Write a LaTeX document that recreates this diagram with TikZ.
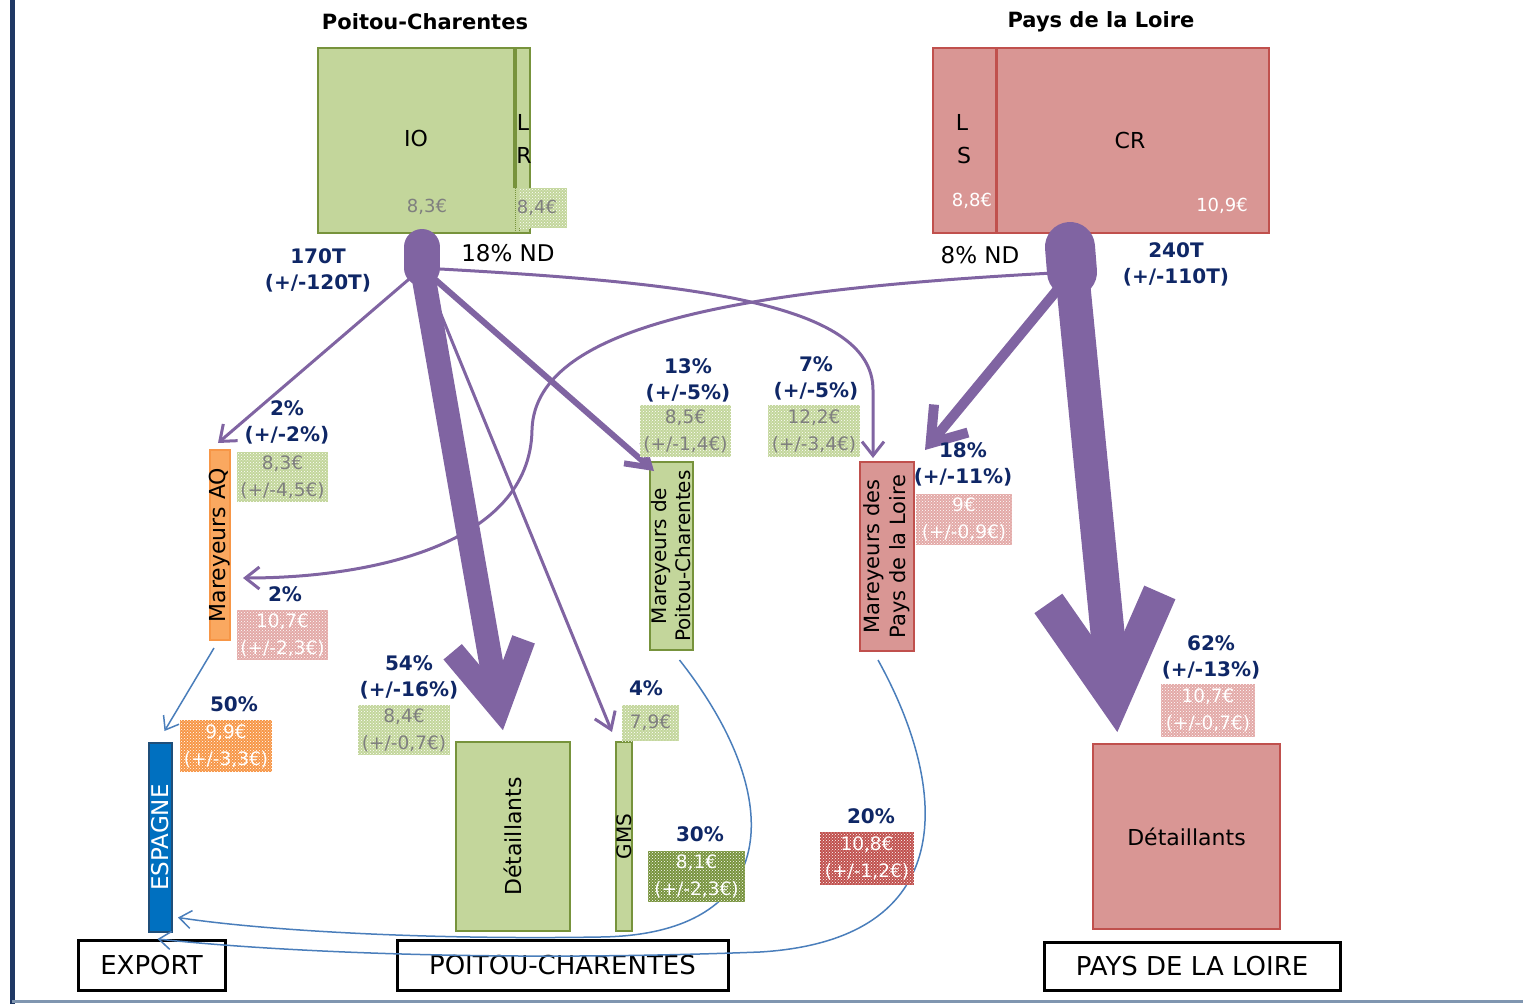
\documentclass[tikz,border=0pt]{standalone}
\usepackage{fontspec}
\setmainfont{DejaVu Sans}
\usetikzlibrary{arrows.meta,patterns,calc}
\definecolor{grnL}{HTML}{C3D69B}
\definecolor{grnD}{HTML}{77933C}
\definecolor{redL}{HTML}{D99694}
\definecolor{redD}{HTML}{C0504D}
\definecolor{pinkP}{HTML}{E3A9A7}
\definecolor{orgP}{HTML}{F79646}
\definecolor{orgL}{HTML}{FAA860}
\definecolor{navy}{HTML}{0F2766}
\definecolor{purp}{HTML}{8064A2}
\definecolor{blueL}{HTML}{4A7EBB}
\definecolor{espB}{HTML}{0070C0}
\definecolor{espD}{HTML}{1F4E79}
\definecolor{greyT}{HTML}{7F7F7F}
\definecolor{frameB}{HTML}{1F3864}
\definecolor{frameG}{HTML}{8096B0}
\begin{document}
\begin{tikzpicture}[x=1pt,y=-1pt,
  every node/.style={inner sep=0pt,outer sep=0pt},
  box/.style={draw,line width=2.5pt},
  gbox/.style={box,draw=grnD,fill=grnL},
  rbox/.style={box,draw=redD,fill=redL},
  regbox/.style={draw=black,line width=3pt,fill=white,font=\fontsize{26}{30}\selectfont},
  ttl/.style={font=\bfseries\fontsize{21}{25}\selectfont},
  pct/.style={text=navy,font=\bfseries\fontsize{20}{26}\selectfont,align=center},
  prbox/.style 2 args={preaction={fill=#1},pattern=crosshatch dots,pattern color=white,
     text=#2,font=\fontsize{18.5}{27}\selectfont,align=center},
  nd/.style={font=\fontsize{23}{27}\selectfont},
  big/.style={font=\fontsize{22}{26}\selectfont},
  parr/.style={draw=purp,line cap=round,line join=round},
  barr/.style={draw=blueL,line width=1.5pt,-{Straight Barb[length=12pt,width=18pt]}},
]
\useasboundingbox (0,0) rectangle (1523,1004);
% frame
\draw[frameB,line width=5pt] (12,0) -- (12,1004);
\draw[frameG,line width=3pt] (12,1001) -- (1523,1001);

% titles
\node[ttl] (tpc) at (425,22) {Poitou-Charentes};
\node[ttl] (tpl) at (1101,22) {Pays de la Loire};

% top boxes
\node[gbox,minimum width=212pt,minimum height=185pt] (pcbox) at (424,140.5) {};
\draw[grnD,line width=4pt] (515,48) -- (515,188);
\draw[grnD,densely dotted,line width=1pt] (515,188) -- (515,233);
\draw[grnD,densely dotted,line width=1pt] (519,188) -- (519,233);
\node[prbox={grnL}{greyT},minimum width=48pt,minimum height=40pt] (p84) at (543,208) {};
\node[big] at (416,138) {IO};
\node[big] at (523,122) {L};
\node[big] at (524,155) {R};
\node[text=greyT,font=\fontsize{18}{20}\selectfont] at (427,207) {8,3€};
\node[text=greyT,font=\fontsize{18}{20}\selectfont] at (537,208) {8,4€};

\node[rbox,minimum width=336pt,minimum height=185pt] (plbox) at (1101,140.5) {};
\draw[redD,line width=3pt] (996,48) -- (996,233);
\node[big] at (962,122) {L};
\node[big] at (964,155) {S};
\node[big] at (1130,140) {CR};
\node[text=white,font=\fontsize{18}{20}\selectfont] at (972,201) {8,8€};
\node[text=white,font=\fontsize{18}{20}\selectfont] at (1222,206) {10,9€};

% intermediate and final boxes
\node[box,draw=orgP,fill=orgL,minimum width=20pt,minimum height=190pt] (maq) at (220,545) {};
\node[rotate=90,font=\fontsize{22}{26}\selectfont] at (maq) {Mareyeurs AQ};
\node[gbox,minimum width=43pt,minimum height=188pt] (mpc) at (671.5,556) {};
\node[rotate=90,align=center,font=\fontsize{20}{24}\selectfont] at (mpc) {Mareyeurs de\\Poitou-Charentes};
\node[rbox,minimum width=54pt,minimum height=189pt] (mpl) at (887,556.5) {};
\node[rotate=90,align=center,font=\fontsize{21}{26}\selectfont] at (mpl) {Mareyeurs des\\Pays de la Loire};
\node[box,draw=espD,fill=espB,minimum width=23pt,minimum height=189pt] (esp) at (160.5,837.5) {};
\node[rotate=90,text=white,font=\fontsize{23}{26}\selectfont] at (esp) {ESPAGNE};
\node[gbox,minimum width=114pt,minimum height=189pt] (detpc) at (513,836.5) {};
\node[rotate=90,font=\fontsize{22}{26}\selectfont] at (detpc) {Détaillants};
\node[gbox,minimum width=16pt,minimum height=189pt] (gms) at (624,836.5) {};
\node[rotate=90,font=\fontsize{20}{24}\selectfont] at (gms) {GMS};
\node[rbox,minimum width=187pt,minimum height=185pt] (detpl) at (1186.5,836.5) {};
\node[font=\fontsize{22}{26}\selectfont] at (detpl) {Détaillants};

% region boxes
\node[regbox,minimum width=147pt,minimum height=50pt] (export) at (151.5,965) {EXPORT};
\node[regbox,minimum width=331pt,minimum height=50pt] (pcreg) at (562.5,965) {POITOU-CHARENTES};
\node[regbox,minimum width=296pt,minimum height=48pt] (plreg) at (1192,966) {PAYS DE LA LOIRE};

% source coordinates
\coordinate (pcA) at (422,268);
\coordinate (pcB) at (422,247);
\coordinate (plA) at (1072,272);
\coordinate (plB) at (1070,247);

% purple flows from Poitou-Charentes
\draw[parr,line width=3pt,-{Straight Barb[length=14pt,width=22pt]}] (pcA) -- ($(maq.north)+(-2,-7)$);
\draw[parr,line width=3pt,-{Straight Barb[length=16pt,width=22pt]}] (pcA) -- ($(gms.north)+(-12,-10)$);
\draw[parr,line width=6pt,-{Straight Barb[length=22pt,width=28pt]}] (pcA) -- ($(mpc.north west)+(4,9)$);
\draw[parr,line width=3pt,-{Straight Barb[length=14pt,width=22pt]}] (pcA) .. controls (680,282) and (873,300) .. (873,390) -- ($(mpl.north)+(-14,-4)$);
\draw[parr,line width=24pt,-{Straight Barb[length=62pt,width=72pt]},shorten >=12pt] (pcA) -- ($(detpc.north)+(-8,0)$);

% purple flows from Pays de la Loire
\draw[parr,line width=3pt,-{Straight Barb[length=14pt,width=22pt]}] (plA) .. controls (760,288) and (535,320) .. (532,430) .. controls (530,545) and (370,578) .. ($(maq.east)+(13,33)$);
\draw[parr,line width=10pt,-{Straight Barb[length=32pt,width=44pt]}] (plA) -- ($(mpl.north east)+(11,-12)$);
\draw[parr,line width=34pt,-{Straight Barb[length=100pt,width=112pt]},shorten >=12pt] (plA) -- ($(detpl.north)+(-68,0)$);

% source blobs
\draw[purp,line width=36pt,line cap=round] (pcB) -- (pcA);
\draw[purp,line width=50pt,line cap=round] (plB) -- (plA);

% blue flows
\draw[barr] ($(maq.south)+(-6,8)$) -- ($(esp.north)+(4,-12)$);
\draw[barr] ($(mpc.south)+(8,10)$) .. controls (790,800) and (780,935) .. (600,937) .. controls (420,940) and (260,930) .. ($(esp.east)+(6,80)$);
\draw[barr] ($(mpl.south)+(-9,9)$) .. controls (950,790) and (960,940) .. (760,952) .. controls (500,962) and (280,952) .. ($(export.north)+(6,-1)$);

% tonnage and ND labels
\node[pct] (t170) at (318,270) {170T\\(+/-120T)};
\node[pct] (t240) at (1176,264) {240T\\(+/-110T)};
\node[nd] (nd18) at (508,253) {18\% ND};
\node[nd] (nd8) at (980,255) {8\% ND};

% percentage labels
\node[pct] at (287,422) {2\%\\(+/-2\%)};
\node[pct] at (285,594) {2\%};
\node[pct] at (688,380) {13\%\\(+/-5\%)};
\node[pct] at (816,378) {7\%\\(+/-5\%)};
\node[pct] at (963,464) {18\%\\(+/-11\%)};
\node[pct] at (409,677) {54\%\\(+/-16\%)};
\node[pct] at (646,688) {4\%};
\node[pct] at (234,704) {50\%};
\node[pct] at (700,834) {30\%};
\node[pct] at (871,816) {20\%};
\node[pct] at (1211,657) {62\%\\(+/-13\%)};

% price boxes
\node[prbox={grnL}{greyT},minimum width=91pt,minimum height=50pt] at (282.5,477) {8,3€\\(+/-4,5€)};
\node[prbox={pinkP}{white},minimum width=91pt,minimum height=50pt] at (282.5,635) {10,7€\\(+/-2,3€)};
\node[prbox={grnL}{greyT},minimum width=91pt,minimum height=52pt] at (685.5,431) {8,5€\\(+/-1,4€)};
\node[prbox={grnL}{greyT},minimum width=92pt,minimum height=52pt] at (814,431) {12,2€\\(+/-3,4€)};
\node[prbox={pinkP}{white},minimum width=96pt,minimum height=51pt] at (964,519.5) {9€\\(+/-0,9€)};
\node[prbox={grnL}{greyT},minimum width=92pt,minimum height=50pt] at (404,730) {8,4€\\(+/-0,7€)};
\node[prbox={grnL}{greyT},minimum width=57pt,minimum height=36pt] at (650.5,723) {7,9€};
\node[prbox={orgP}{white},minimum width=92pt,minimum height=52pt] at (226,746) {9,9€\\(+/-3,3€)};
\node[prbox={grnD}{white},minimum width=97pt,minimum height=51pt] at (696.5,876.5) {8,1€\\(+/-2,3€)};
\node[prbox={redD}{white},minimum width=94pt,minimum height=53pt] at (867,858.5) {10,8€\\(+/-1,2€)};
\node[prbox={pinkP}{white},minimum width=94pt,minimum height=53pt] at (1208,710.5) {10,7€\\(+/-0,7€)};
\end{tikzpicture}
\end{document}
